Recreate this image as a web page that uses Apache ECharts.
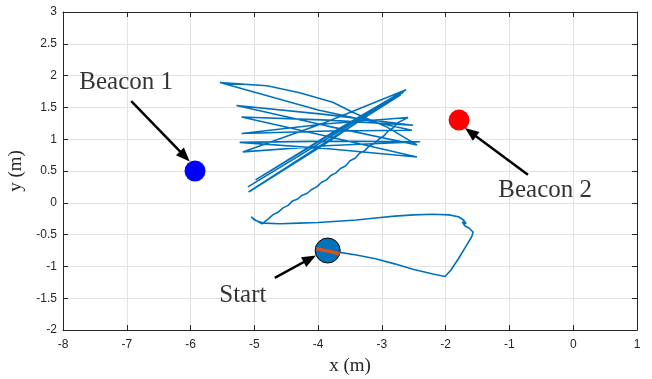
<!DOCTYPE html>
<html>
<head>
<meta charset="utf-8">
<script src="https://cdn.jsdelivr.net/npm/echarts@6/dist/echarts.min.js"></script>
<style>
  html, body { margin: 0; padding: 0; background: #fff; }
  #chart { width: 652px; height: 379px; }
</style>
</head>
<body>
<div id="chart"></div>
<script>
// Robot position estimate (x, y in metres), in recorded order.
const track = [
  [-3.85,-0.75],[-3.66,-0.78],[-3.40,-0.82],[-3.10,-0.88],[-2.80,-0.96],[-2.50,-1.05],
  [-2.20,-1.12],[-2.01,-1.16],[-1.92,-1.06],[-1.80,-0.88],[-1.68,-0.68],[-1.59,-0.53],
  [-1.57,-0.46],[-1.63,-0.40],[-1.70,-0.36],[-1.74,-0.30],[-1.68,-0.33],[-1.72,-0.27],
  [-1.80,-0.22],[-1.95,-0.19],[-2.20,-0.18],[-2.50,-0.19],[-2.80,-0.21],[-3.10,-0.24],
  [-3.40,-0.27],[-3.70,-0.29],[-4.00,-0.31],[-4.30,-0.32],[-4.60,-0.33],[-4.85,-0.32],
  [-5.00,-0.27],[-5.05,-0.22],[-4.97,-0.28],[-4.88,-0.33],
  [-4.79,-0.26],[-4.71,-0.19],[-4.63,-0.15],[-4.55,-0.08],[-4.47,-0.04],[-4.40,0.03],
  [-4.32,0.06],[-4.25,0.12],[-4.17,0.15],[-4.10,0.21],[-4.02,0.25],[-3.95,0.32],
  [-3.87,0.36],[-3.80,0.43],[-3.72,0.47],[-3.65,0.54],[-3.57,0.58],[-3.50,0.66],
  [-3.42,0.70],[-3.35,0.78],[-3.27,0.82],[-3.20,0.89],[-3.12,0.93],[-3.05,1.00],
  [-2.97,1.05],[-2.90,1.13],[-2.82,1.18],[-2.75,1.26],[-2.67,1.30],[-2.59,1.34],
  [-3.90,1.24],[-5.20,1.09],
  [-3.85,1.13],[-2.53,1.14],
  [-4.00,1.46],[-5.54,1.89],
  [-4.80,1.84],[-4.29,1.73],[-3.77,1.58],[-3.45,1.42],[-2.92,1.19],[-2.45,0.91],
  [-3.87,1.21],[-5.28,1.53],
  [-3.90,1.39],[-2.51,1.22],
  [-3.85,1.30],[-5.20,1.35],
  [-3.83,1.04],[-2.45,0.72],
  [-3.84,0.85],[-5.23,0.95],
  [-3.80,0.97],[-2.40,0.96],
  [-3.80,0.90],[-5.18,0.80],
  [-3.90,1.26],[-2.64,1.77],
  [-3.80,1.09],[-4.98,0.36],
  [-3.88,1.03],[-2.66,1.74],
  [-3.92,0.97],[-5.10,0.25],
  [-3.84,1.02],[-2.62,1.78],
  [-3.90,0.92],[-5.09,0.17],
  [-3.84,0.98],[-2.70,1.70]
];

// Start pose: position and heading segment
const startPos = [-3.85, -0.75];
const startHeading = [[-4.03, -0.72], [-3.66, -0.80]];

// Beacon positions
const beaconNames = ['Beacon 1', 'Beacon 2'];
const beaconPos = [[-5.93, 0.50], [-1.79, 1.30]];
const beaconColors = ['#0000ff', '#ff0000'];

// Annotation text anchors and arrows (tail -> head)
const noteText = ['Beacon 1', 'Beacon 2', 'Start'];
const notePos = [[-7.01, 1.90], [-0.44, 0.20], [-5.18, -1.45]];
const arrows = [
  [[-6.93, 1.60], [-6.09, 0.73]],
  [[-0.71, 0.44], [-1.61, 1.11]],
  [[-4.68, -1.18], [-4.13, -0.88]]
];

// Axis ranges and tick spacing
const xRange = [-8, 1], xStep = 1;
const yRange = [-2, 3], yStep = 0.5;

const ink = '#262626';
const gridColor = '#e3e3e3';
const tickFont = { color: ink, fontSize: 12, fontFamily: 'Liberation Sans' };
const serif = 'Liberation Serif';

function axisBase(min, max, step) {
  return {
    type: 'value', min: min, max: max, interval: step,
    axisLine: { show: true, onZero: false, lineStyle: { color: ink, width: 1 } },
    axisTick: { show: true, inside: true, length: 5, lineStyle: { color: ink } },
  };
}

const chart = echarts.init(document.getElementById('chart'), null, { renderer: 'canvas' });

chart.setOption({
  animation: false,
  backgroundColor: '#ffffff',
  grid: { left: 63, right: 15, top: 12, bottom: 49, containLabel: false, outerBoundsMode: 'none' },
  xAxis: [
    Object.assign(axisBase(xRange[0], xRange[1], xStep), {
      position: 'bottom',
      axisLabel: Object.assign({ margin: 9 }, tickFont),
      splitLine: { show: true, lineStyle: { color: gridColor, width: 1 } },
      name: 'x (m)', nameLocation: 'middle', nameGap: 27,
      nameTextStyle: { fontFamily: serif, fontSize: 19, color: ink }
    }),
    Object.assign(axisBase(xRange[0], xRange[1], xStep), {
      position: 'top',
      axisLabel: { show: false },
      splitLine: { show: false }
    })
  ],
  yAxis: [
    Object.assign(axisBase(yRange[0], yRange[1], yStep), {
      position: 'left',
      axisLabel: Object.assign({ margin: 6 }, tickFont),
      splitLine: { show: true, lineStyle: { color: gridColor, width: 1 } },
      name: 'y (m)', nameLocation: 'middle', nameGap: 36, nameRotate: 90,
      nameTextStyle: { fontFamily: serif, fontSize: 19, color: ink }
    }),
    Object.assign(axisBase(yRange[0], yRange[1], yStep), {
      position: 'right',
      axisLabel: { show: false },
      splitLine: { show: false }
    })
  ],
  series: [
    {
      name: 'track', type: 'line', data: track,
      showSymbol: false, symbol: 'none', z: 2,
      lineStyle: { color: '#0072BD', width: 1.6 }
    },
    {
      name: 'start', type: 'scatter', data: [startPos], z: 3,
      symbolSize: 25,
      itemStyle: { color: '#0072BD', borderColor: '#000000', borderWidth: 1, opacity: 1 }
    },
    {
      name: 'heading', type: 'line', data: startHeading, z: 4,
      symbol: 'none', lineStyle: { color: '#D95319', width: 3.5 }
    },
    {
      name: 'beacons', type: 'scatter', z: 3, symbolSize: 21,
      data: beaconPos.map((p, i) => ({ name: beaconNames[i], value: p, itemStyle: { color: beaconColors[i], opacity: 1 } }))
    },
    {
      name: 'notes', type: 'scatter', z: 5, symbolSize: 0,
      data: notePos.map((p, i) => ({ name: noteText[i], value: p })),
      label: {
        show: true, position: 'inside', formatter: '{b}',
        fontFamily: serif, fontSize: 25, color: '#000000',
        textBorderWidth: 0, textShadowBlur: 0
      },
      markLine: {
        silent: true, animation: false,
        symbol: ['none', 'triangle'], symbolSize: [11, 14],
        lineStyle: { color: '#000000', width: 2.5, type: 'solid' },
        label: { show: false },
        emphasis: { disabled: true },
        data: arrows.map(a => [{ coord: a[0] }, { coord: a[1] }])
      }
    }
  ]
});
</script>
</body>
</html>
